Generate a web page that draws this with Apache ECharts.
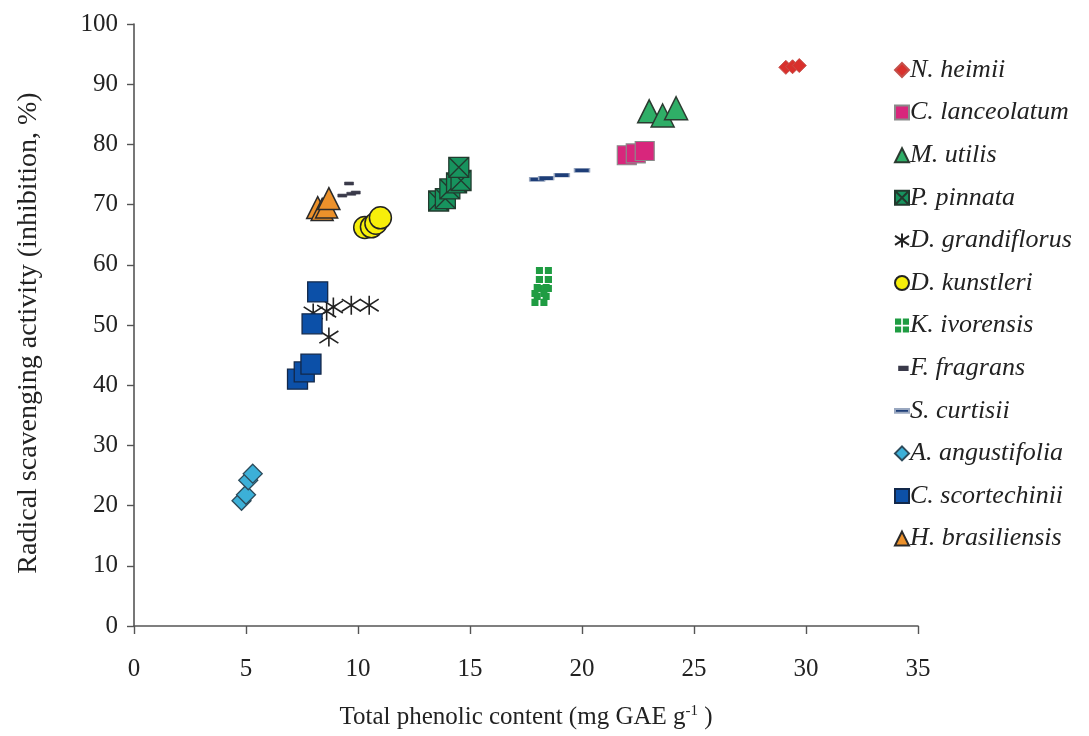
<!DOCTYPE html>
<html>
<head>
<meta charset="utf-8">
<script src="https://cdn.jsdelivr.net/npm/echarts@6/dist/echarts.min.js"></script>
<style>
  html, body { margin: 0; padding: 0; background: #ffffff; }
  #chart { width: 1089px; height: 736px; }
</style>
</head>
<body>
<div id="chart"></div>
<script>
// Total phenolic content (x, mg GAE/g) vs radical scavenging activity (y, %)
const speciesNames = [
  'N. heimii', 'C. lanceolatum', 'M. utilis', 'P. pinnata', 'D. grandiflorus',
  'D. kunstleri', 'K. ivorensis', 'F. fragrans', 'S. curtisii',
  'A. angustifolia', 'C. scortechinii', 'H. brasiliensis'
];

const nHeimii = [[29.1, 92.8], [29.4, 92.9], [29.7, 93.1]];
const cLanceolatum = [[22.0, 78.2], [22.4, 78.5], [22.8, 78.9]];
const mUtilis = [[23.0, 85.5], [23.6, 84.8], [24.2, 86.0]];
const pPinnata = [[13.6, 70.6], [13.9, 71.0], [14.1, 72.6], [14.4, 73.6], [14.6, 74.0], [14.5, 76.2]];
const dGrandiflorus = [[8.0, 52.0], [8.6, 52.3], [8.9, 53.0], [9.7, 53.3], [10.5, 53.3], [8.7, 48.0]];
const dKunstleri = [[10.3, 66.2], [10.6, 66.3], [10.8, 66.9], [11.0, 67.8]];
const kIvorensis = [[18.3, 58.3], [18.3, 56.8], [18.2, 55.5], [18.1, 54.5]];
const fFragrans = [[9.3, 71.5], [9.7, 71.8], [9.9, 72.0], [9.6, 73.5]];
const sCurtisii = [[18.0, 74.2], [18.4, 74.4], [19.1, 74.9], [20.0, 75.7]];
const aAngustifolia = [[4.8, 20.8], [5.0, 21.8], [5.1, 24.2], [5.3, 25.3]];
const cScortechinii = [[7.3, 41.0], [7.6, 42.2], [7.9, 43.5], [7.95, 50.2], [8.2, 55.5]];
const hBrasiliensis = [[8.2, 69.5], [8.4, 69.2], [8.6, 69.6], [8.7, 71.0]];

const xTicks = { min: 0, max: 35, interval: 5 };
const yTicks = { min: 0, max: 100, interval: 10 };

// marker shapes
const asteriskPath = 'path://M0,1.8 L10,8.2 M10,1.8 L0,8.2 M5,0 L5,10';
const crossedSquarePath = 'path://M0,0 L10,0 L10,10 L0,10 Z M0,0 L10,10 M10,0 L0,10';
const fourSquarePath = 'path://M0,0 L4.4,0 L4.4,4.4 L0,4.4 Z M5.6,0 L10,0 L10,4.4 L5.6,4.4 Z M0,5.6 L4.4,5.6 L4.4,10 L0,10 Z M5.6,5.6 L10,5.6 L10,10 L5.6,10 Z';
// legend icons for the dash markers keep a square bounding box so they stay thin
const shortDashIcon = 'path://M0,0 M10,10 M3,4 L9,4 L9,6.2 L3,6.2 Z';
const longDashIcon = 'path://M0,0 M10,10 M0,3.8 L10,3.8 L10,6.4 L0,6.4 Z';

function scatter(name, data, symbol, size, color, border, borderWidth) {
  return {
    name: name,
    type: 'scatter',
    data: data,
    symbol: symbol,
    symbolSize: size,
    itemStyle: { color: color, borderColor: border, borderWidth: borderWidth, opacity: 1 },
    emphasis: { disabled: true }
  };
}

const series = [
  scatter(speciesNames[0], nHeimii, 'diamond', 14, '#d9302c', '#c4504a', 1),
  scatter(speciesNames[1], cLanceolatum, 'rect', 19, '#d8267c', '#8a8a8a', 1.2),
  scatter(speciesNames[2], mUtilis, 'triangle', 23, '#2fae67', '#2b3a30', 1.5),
  scatter(speciesNames[3], pPinnata, crossedSquarePath, 20, '#17935e', '#223a2e', 1.3),
  scatter(speciesNames[4], dGrandiflorus, asteriskPath, 19, 'rgba(0,0,0,0)', '#222222', 1.6),
  scatter(speciesNames[5], dKunstleri, 'circle', 22, '#f7ef0a', '#222222', 1.5),
  scatter(speciesNames[6], kIvorensis, fourSquarePath, 16, '#1f9c42', '#1f9c42', 0),
  scatter(speciesNames[7], fFragrans, 'rect', [9, 3], '#3a3a4a', '#3a3a4a', 0.5),
  scatter(speciesNames[8], sCurtisii, 'rect', [15, 4], '#1e3e78', '#9aa8c0', 0.8),
  scatter(speciesNames[9], aAngustifolia, 'diamond', 19, '#3cb0d8', '#2d4a5a', 1.3),
  scatter(speciesNames[10], cScortechinii, 'rect', 20, '#0c50a8', '#12284a', 1.3),
  scatter(speciesNames[11], hBrasiliensis, 'triangle', 22, '#ec912b', '#2a2a2a', 1.5)
];

const legendIcons = { 'F. fragrans': shortDashIcon, 'S. curtisii': longDashIcon };
const legendData = speciesNames.map(function (n) {
  return legendIcons[n] ? { name: n, icon: legendIcons[n] } : { name: n };
});

const axisColor = '#555555';
const serif = '"Liberation Serif", "DejaVu Serif", serif';

const chart = echarts.init(document.getElementById('chart'), null, { renderer: 'canvas' });
chart.setOption({
  animation: false,
  backgroundColor: '#ffffff',
  grid: { left: 134, right: 171, top: 24, bottom: 110, containLabel: false },
  xAxis: {
    type: 'value',
    min: xTicks.min, max: xTicks.max, interval: xTicks.interval,
    name: 'Total phenolic content (mg GAE g{sup|-1} )',
    nameLocation: 'middle',
    nameGap: 78,
    nameTextStyle: {
      fontFamily: serif, fontSize: 25, color: '#222',
      rich: { sup: { fontFamily: serif, fontSize: 15, color: '#222', verticalAlign: 'top', padding: [0, 0, 12, 0] } }
    },
    axisLine: { show: true, onZero: false, lineStyle: { color: axisColor, width: 1.6 } },
    axisTick: { show: true, inside: false, length: 8, lineStyle: { color: axisColor, width: 1.4 } },
    axisLabel: { fontFamily: serif, fontSize: 25, color: '#222', margin: 31 },
    splitLine: { show: false }
  },
  yAxis: {
    type: 'value',
    min: yTicks.min, max: yTicks.max, interval: yTicks.interval,
    name: 'Radical scavenging activity (inhibition, %)',
    nameLocation: 'middle',
    nameGap: 91,
    nameRotate: 90,
    nameTextStyle: { fontFamily: serif, fontSize: 28, color: '#222', padding: [0, 16, 0, 0] },
    axisLine: { show: true, onZero: false, lineStyle: { color: axisColor, width: 1.6 } },
    axisTick: { show: true, inside: false, length: 7, lineStyle: { color: axisColor, width: 1.4 } },
    axisLabel: { fontFamily: serif, fontSize: 25, color: '#222', margin: 16 },
    splitLine: { show: false }
  },
  legend: {
    orient: 'vertical',
    left: 889,
    top: 52,
    itemWidth: 14,
    itemHeight: 14,
    itemGap: 16.6,
    selectedMode: false,
    data: legendData,
    textStyle: {
      fontFamily: serif, fontSize: 26, fontStyle: 'italic', color: '#222',
      padding: [0, 0, 0, -4]
    }
  },
  series: series
});
</script>
</body>
</html>
